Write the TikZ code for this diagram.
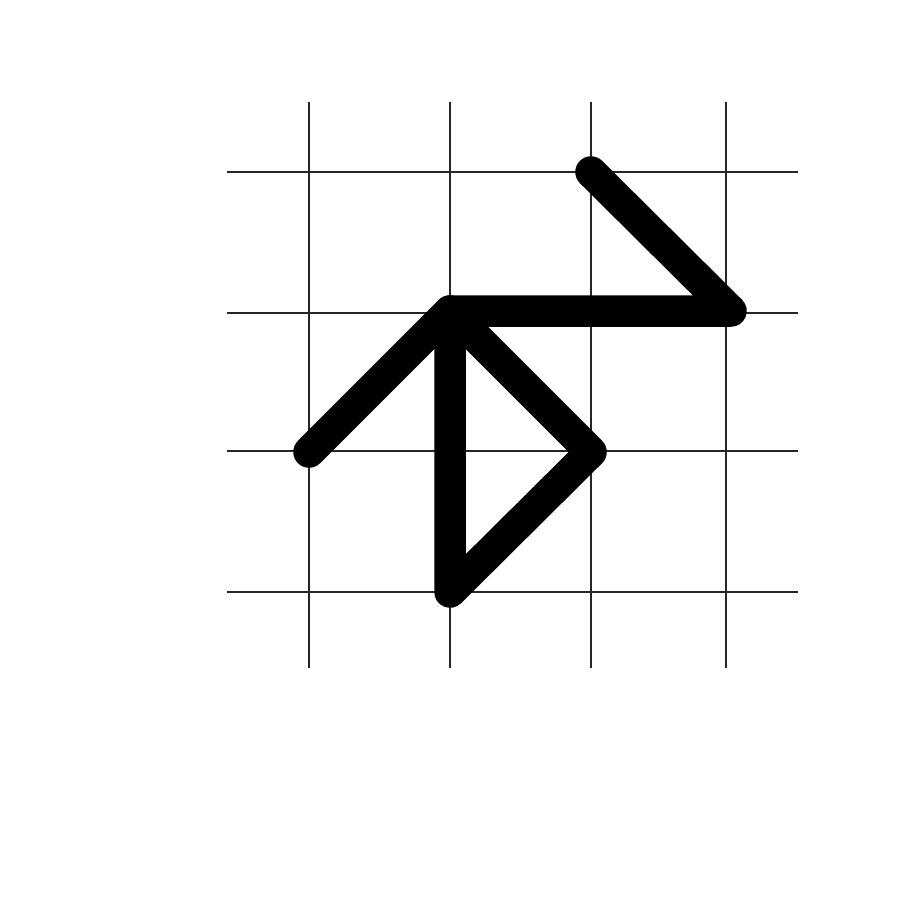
\documentclass[tikz,border=0pt]{standalone}
\begin{document}
\begin{tikzpicture}[x=0.02cm,y=-0.02cm,
  gridline/.style={line width=0.8pt,black!85},
  stroke/.style={line width=9.0mm,line cap=round,line join=round,black}]
\useasboundingbox (0,0) rectangle (900,900);
\fill[white] (0,0) rectangle (900,900);
% grid
\foreach \y in {172,313,451,592} \draw[gridline] (227,\y) -- (798,\y);
\foreach \x in {309,450,591,726} \draw[gridline] (\x,102) -- (\x,668);
% vertices
\coordinate (a) at (591,172);
\coordinate (b) at (731,311);
\coordinate (c) at (450,311);
\coordinate (d) at (309,452);
\coordinate (e) at (450,592);
\coordinate (f) at (591,452);
\draw[stroke,line width=0.63cm] (a) -- (b) -- (c) -- (d);
\draw[stroke,line width=0.63cm] (c) -- (e) -- (f) -- cycle;
\end{tikzpicture}
\end{document}
